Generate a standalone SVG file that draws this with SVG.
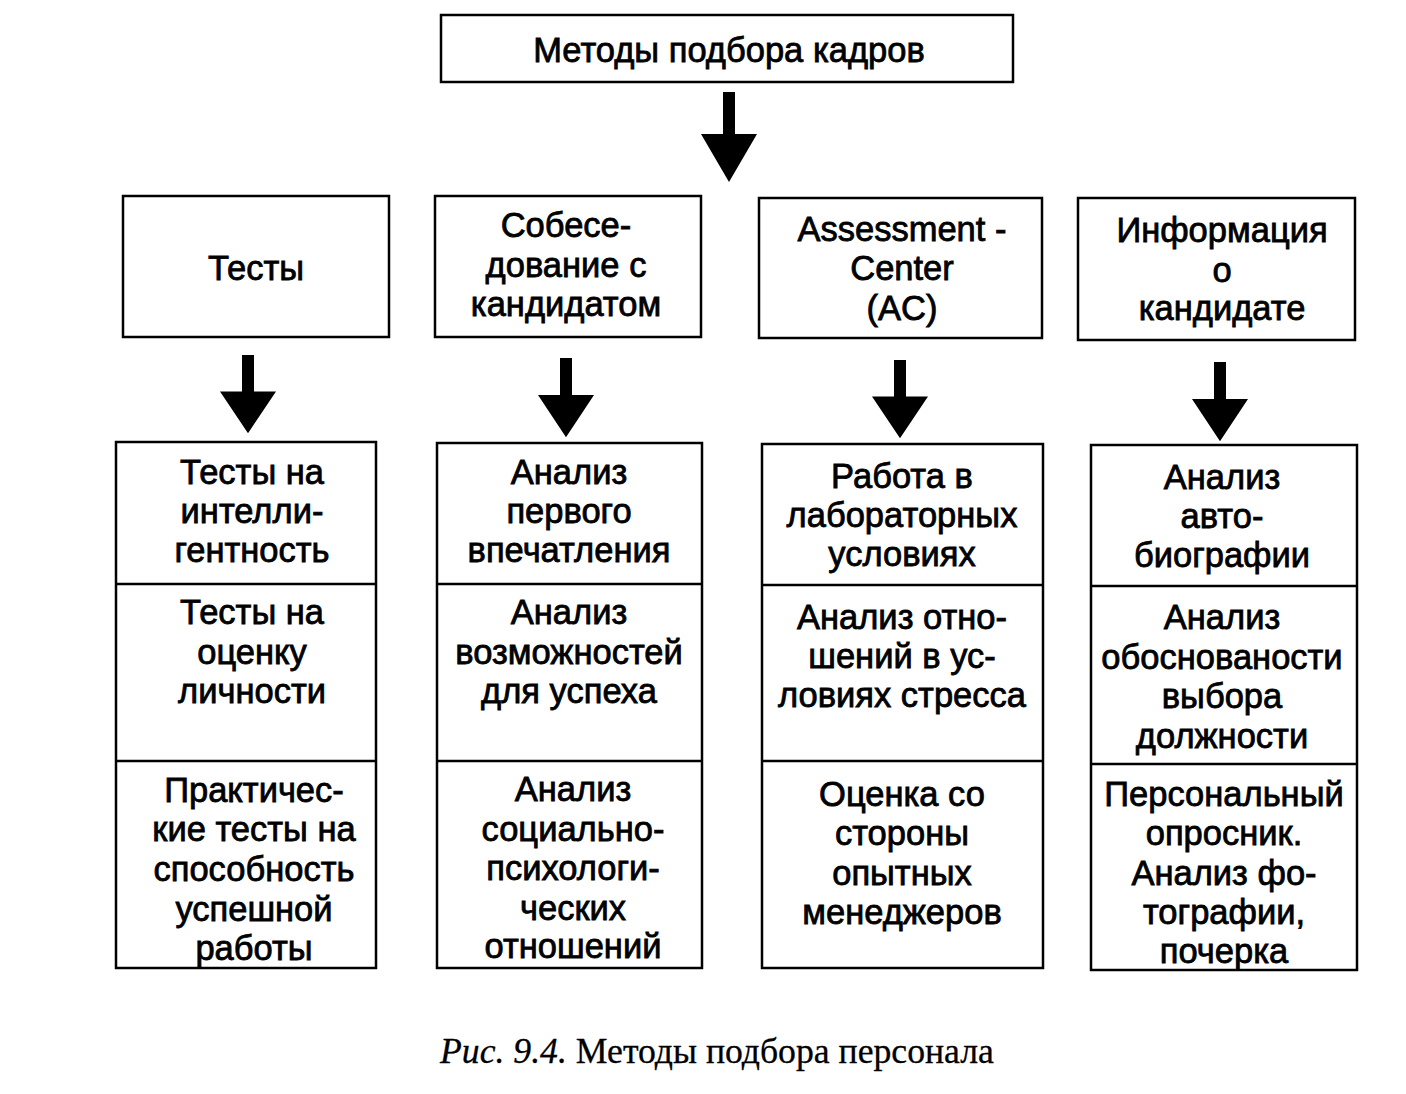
<svg xmlns="http://www.w3.org/2000/svg" width="1406" height="1094" viewBox="0 0 1406 1094">
<style>
.box{fill:#fff;stroke:#000;stroke-width:2.5}
.div{stroke:#000;stroke-width:2.5}
.t{font-family:"Liberation Sans",Arial,sans-serif;font-size:34.5px;text-anchor:middle;fill:#000;stroke:#000;stroke-width:0.8}
.arr{fill:#000}
.cap{font-family:"Liberation Serif","Times New Roman",serif;font-size:35.7px;fill:#000;stroke:#000;stroke-width:0.3}
</style>
<defs>
<path id="arrow" class="arr" d="M-6,0 H6 V42 H28 L0,90 L-28,42 H-6 Z"/>
</defs>
<rect width="1406" height="1094" fill="#fff"/>
<g id="n-top">
<rect class="box" x="441" y="15" width="572" height="67"/>
<text class="t" x="729" y="62">Методы подбора кадров</text>
</g>
<g id="n-tests">
<rect class="box" x="123" y="196" width="266" height="141"/>
<text class="t" x="256" y="280">Тесты</text>
</g>
<g id="n-interview">
<rect class="box" x="435" y="196" width="266" height="141"/>
<text class="t" x="566" y="237">Собесе-</text>
<text class="t" x="566" y="277">дование с</text>
<text class="t" x="566" y="316">кандидатом</text>
</g>
<g id="n-ac">
<rect class="box" x="759" y="198" width="283" height="140"/>
<text class="t" x="902" y="241">Assessment -</text>
<text class="t" x="902" y="280">Center</text>
<text class="t" x="902" y="320">(AC)</text>
</g>
<g id="n-info">
<rect class="box" x="1078" y="198" width="277" height="142"/>
<text class="t" x="1222" y="242">Информация</text>
<text class="t" x="1222" y="282">о</text>
<text class="t" x="1222" y="320">кандидате</text>
</g>
<g id="n-col1">
<rect class="box" x="116" y="442" width="260" height="526"/>
<line class="div" x1="116" y1="584" x2="376" y2="584"/>
<line class="div" x1="116" y1="761" x2="376" y2="761"/>
<text class="t" x="252" y="484">Тесты на</text>
<text class="t" x="252" y="523">интелли-</text>
<text class="t" x="252" y="562">гентность</text>
<text class="t" x="252" y="624">Тесты на</text>
<text class="t" x="252" y="664">оценку</text>
<text class="t" x="252" y="703">личности</text>
<text class="t" x="254" y="802">Практичес-</text>
<text class="t" x="254" y="841">кие тесты на</text>
<text class="t" x="254" y="881">способность</text>
<text class="t" x="254" y="921">успешной</text>
<text class="t" x="254" y="960">работы</text>
</g>
<g id="n-col2">
<rect class="box" x="437" y="443" width="265" height="525"/>
<line class="div" x1="437" y1="584" x2="702" y2="584"/>
<line class="div" x1="437" y1="761" x2="702" y2="761"/>
<text class="t" x="569" y="484">Анализ</text>
<text class="t" x="569" y="523">первого</text>
<text class="t" x="569" y="562">впечатления</text>
<text class="t" x="569" y="624">Анализ</text>
<text class="t" x="569" y="664">возможностей</text>
<text class="t" x="569" y="703">для успеха</text>
<text class="t" x="573" y="801">Анализ</text>
<text class="t" x="573" y="841">социально-</text>
<text class="t" x="573" y="880">психологи-</text>
<text class="t" x="573" y="920">ческих</text>
<text class="t" x="573" y="958">отношений</text>
</g>
<g id="n-col3">
<rect class="box" x="762" y="444" width="281" height="524"/>
<line class="div" x1="762" y1="585" x2="1043" y2="585"/>
<line class="div" x1="762" y1="761" x2="1043" y2="761"/>
<text class="t" x="902" y="488">Работа в</text>
<text class="t" x="902" y="527">лабораторных</text>
<text class="t" x="902" y="566">условиях</text>
<text class="t" x="902" y="629">Анализ отно-</text>
<text class="t" x="902" y="668">шений в ус-</text>
<text class="t" x="902" y="707">ловиях стресса</text>
<text class="t" x="902" y="806">Оценка со</text>
<text class="t" x="902" y="845">стороны</text>
<text class="t" x="902" y="885">опытных</text>
<text class="t" x="902" y="924">менеджеров</text>
</g>
<g id="n-col4">
<rect class="box" x="1091" y="445" width="266" height="525"/>
<line class="div" x1="1091" y1="586" x2="1357" y2="586"/>
<line class="div" x1="1091" y1="764" x2="1357" y2="764"/>
<text class="t" x="1222" y="489">Анализ</text>
<text class="t" x="1222" y="528">авто-</text>
<text class="t" x="1222" y="567">биографии</text>
<text class="t" x="1222" y="629">Анализ</text>
<text class="t" x="1222" y="669">обоснованости</text>
<text class="t" x="1222" y="708">выбора</text>
<text class="t" x="1222" y="748">должности</text>
<text class="t" x="1224" y="806">Персональный</text>
<text class="t" x="1224" y="845">опросник.</text>
<text class="t" x="1224" y="885">Анализ фо-</text>
<text class="t" x="1224" y="924">тографии,</text>
<text class="t" x="1224" y="963">почерка</text>
</g>
<g id="connectors">
<use href="#arrow" transform="translate(729,92)"/>
<use href="#arrow" transform="translate(248,355) scale(1,0.87)"/>
<use href="#arrow" transform="translate(566,358) scale(1,0.88)"/>
<use href="#arrow" transform="translate(900,360) scale(1,0.87)"/>
<use href="#arrow" transform="translate(1220,362) scale(1,0.88)"/>
</g>
<text class="cap" x="440" y="1063"><tspan font-style="italic">Рис. 9.4.</tspan> Методы подбора персонала</text>
</svg>
